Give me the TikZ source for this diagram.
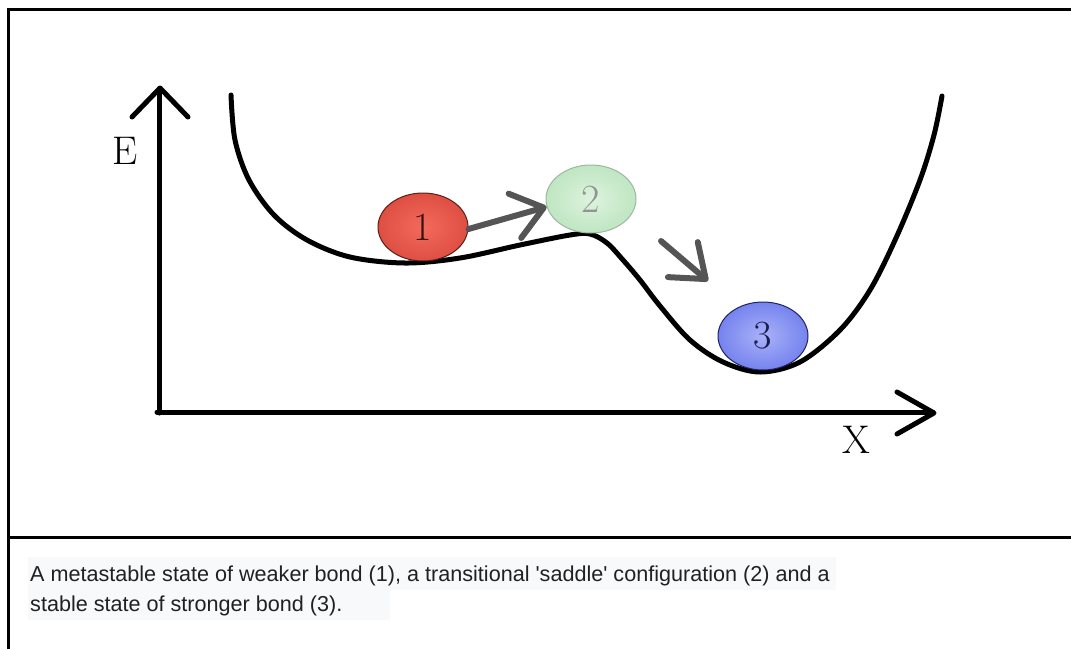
\documentclass[tikz,border=0pt]{standalone}
\usepackage{fontspec}
\newfontfamily\capfont{Liberation Sans}
\usetikzlibrary{arrows.meta,shapes.geometric}
\definecolor{frameblack}{HTML}{000000}
\definecolor{capbg}{HTML}{F8F9FA}
\definecolor{captext}{HTML}{202122}
\definecolor{arrowgrey}{HTML}{555555}
\definecolor{redin}{HTML}{F26A5C}
\definecolor{redout}{HTML}{DE4F42}
\definecolor{redline}{HTML}{5A1E18}
\definecolor{greenin}{HTML}{DDF3DE}
\definecolor{greenout}{HTML}{BFE6C2}
\definecolor{greenline}{HTML}{9DB8A0}
\definecolor{bluein}{HTML}{A9B2F8}
\definecolor{blueout}{HTML}{7683EE}
\definecolor{blueline}{HTML}{1E2460}
\begin{document}
\begin{tikzpicture}[x=1pt,y=-1pt,
  framestyle/.style={line width=3pt,draw=frameblack},
  axisline/.style={line width=5pt,line cap=round,line join=round},
  curveline/.style={line width=5pt,line cap=round,line join=round},
  ballbase/.style={ellipse,minimum width=90pt,minimum height=68pt,inner sep=0pt,line width=1pt,font=\fontsize{40}{48}\selectfont},
  ballred/.style={ballbase,draw=redline,shading=radial,inner color=redin,outer color=redout,text=redline!60!black},
  ballgreen/.style={ballbase,draw=greenline,shading=radial,inner color=greenin,outer color=greenout,text=gray!85},
  ballblue/.style={ballbase,draw=blueline,shading=radial,inner color=bluein,outer color=blueout,text=blueline!80!black},
  flow/.style={draw=arrowgrey,line width=6pt,line cap=round,
    -{Straight Barb[length=30pt,width=46pt,line cap=round,line join=round]}},
  axislabel/.style={font=\fontsize{40}{48}\selectfont,inner sep=0pt},
  captionline/.style={font=\capfont\fontsize{21.6}{30}\selectfont,text=captext,anchor=base west,inner sep=0pt}
]
\useasboundingbox (0,0) rectangle (1071,649);
% frame
\draw[framestyle] (8,649) -- (8,9) -- (1071,9);
\draw[framestyle] (8,537) -- (1071,537);
% caption background
\fill[capbg] (28,557) rectangle (836,590);
\fill[capbg] (28,590) rectangle (390,620);
\node[captionline] (cap1) at (30,581) {A metastable state of weaker bond (1), a transitional 'saddle' configuration (2) and a};
\node[captionline] (cap2) at (30,611) {stable state of stronger bond (3).};
% axes
\draw[axisline] (159,413) -- (159,89);
\draw[axisline] (132,117) -- (160,88) -- (188,117);
\draw[axisline] (157,412) -- (933,412);
\draw[axisline] (897,392) -- (934,413) -- (897,434);
\node[axislabel] (E) at (125,151) {E};
\node[axislabel] (X) at (856,440) {X};
% energy curve
\draw[curveline] plot[smooth,tension=0.55] coordinates {
 (231,95) (235,140) (249,180) (274,215) (307,240) (350,257) (405,263)
 (460,258) (520,245) (570,235) (590,234) (607,243) (623,260) (640,280)
 (660,306) (690,340) (723,362) (760,372) (800,362) (840,330) (870,290)
 (896,238) (920,180) (934,135) (942,96)};
% balls
\node[ballred] (b1) at (423,227) {1};
\node[ballgreen] (b2) at (591,199) {2};
\node[ballblue] (b3) at (763,336) {3};
% arrows
\coordinate (a2s) at (661,241);
\coordinate (a2e) at (708,281);
\draw[flow] ([yshift=-2pt]b1.east) -- (b2.190);
\draw[flow] (a2s) -- (a2e);
\end{tikzpicture}
\end{document}
